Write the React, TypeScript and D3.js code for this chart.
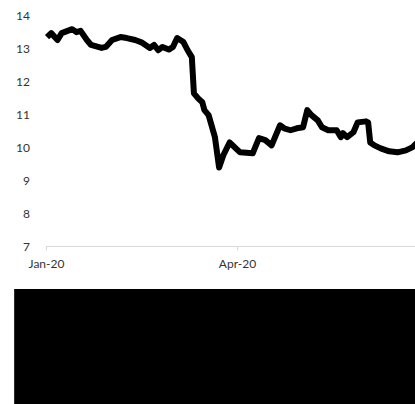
import React from "react";
import * as d3 from "d3";

const dates: string[] = [
  "2020-01-01","2020-01-03","2020-01-06","2020-01-08","2020-01-13","2020-01-15","2020-01-17",
  "2020-01-20","2020-01-22","2020-01-27","2020-01-29","2020-02-01","2020-02-05","2020-02-08",
  "2020-02-12","2020-02-15","2020-02-19","2020-02-21","2020-02-23","2020-02-25","2020-02-28",
  "2020-03-01","2020-03-03","2020-03-06","2020-03-08","2020-03-10","2020-03-11","2020-03-13",
  "2020-03-15","2020-03-16","2020-03-18","2020-03-21","2020-03-23","2020-03-25","2020-03-28",
  "2020-04-02","2020-04-08","2020-04-11","2020-04-14","2020-04-17","2020-04-21","2020-04-23",
  "2020-04-26","2020-04-29","2020-05-02","2020-05-04","2020-05-06","2020-05-09","2020-05-11",
  "2020-05-14","2020-05-18","2020-05-20","2020-05-21","2020-05-23","2020-05-26","2020-05-28",
  "2020-06-01","2020-06-02","2020-06-03","2020-06-05","2020-06-08","2020-06-12","2020-06-16",
  "2020-06-20","2020-06-23","2020-06-25","2020-06-27"
];
const values: number[] = [
  13.36,13.48,13.27,13.48,13.6,13.51,13.55,
  13.27,13.12,13.03,13.06,13.27,13.36,13.33,
  13.27,13.2,13.03,13.12,12.96,13.06,12.98,
  13.06,13.33,13.21,12.96,12.75,11.65,11.5,
  11.38,11.14,10.99,10.32,9.4,9.77,10.16,
  9.86,9.83,10.29,10.23,10.07,10.68,10.59,
  10.53,10.59,10.62,11.14,10.99,10.83,10.62,
  10.53,10.53,10.32,10.44,10.32,10.47,10.77,
  10.8,10.77,10.16,10.07,9.98,9.89,9.86,
  9.92,10.01,10.13,10.22
];
const yTicks: number[] = [7, 8, 9, 10, 11, 12, 13, 14];
const xTickDates: string[] = ["2020-01-01", "2020-04-01"];

const W = 415, H = 404;
const parse = d3.timeParse("%Y-%m-%d");
const fmt = d3.timeFormat("%b-%y");

export default function App() {
  const x = d3.scaleTime()
    .domain([parse("2020-01-01")!, parse("2020-04-01")!])
    .range([47, 238]);
  const y = d3.scaleLinear().domain([7, 14]).range([246.5, 16]);
  const data = dates.map((d, i) => ({ d: parse(d)!, v: values[i] }));
  const line = d3.line<{ d: Date; v: number }>()
    .x((p) => x(p.d))
    .y((p) => y(p.v));
  const font = "Lato, 'Open Sans', sans-serif";
  return (
    <svg width={W} height={H} style={{ position: "absolute", left: 0, top: 0, background: "#fff" }}>
      <defs>
        <clipPath id="clip">
          <rect x={0} y={0} width={W} height={286} />
        </clipPath>
      </defs>
      {yTicks.map((t) => (
        <text key={t} x={30} y={y(t)} dy="0.35em" textAnchor="end"
          fontFamily={font} fontSize={12} fill="#333">{t}</text>
      ))}
      <line x1={46} x2={W} y1={y(7)} y2={y(7)} stroke="#d9d9d9" strokeWidth={1.2} />
      {xTickDates.map((s) => {
        const xx = Math.round(x(parse(s)!)) - 0.5;
        return (
          <g key={s}>
            <line x1={xx} x2={xx} y1={y(7)} y2={y(7) + 4} stroke="#d9d9d9" strokeWidth={1} />
            <text x={xx} y={268} textAnchor="middle" fontFamily={font}
              fontSize={12} fill="#333">{fmt(parse(s)!)}</text>
          </g>
        );
      })}
      <path d={line(data) || ""} fill="none" stroke="#000" strokeWidth={6}
        strokeLinejoin="round" strokeLinecap="butt" clipPath="url(#clip)" />
      <rect x={14} y={289} width={W - 14} height={H - 289} fill="#000" />
      <line x1={14.5} x2={14.5} y1={289} y2={H} stroke="#2a2a2a" strokeWidth={1} />
    </svg>
  );
}
